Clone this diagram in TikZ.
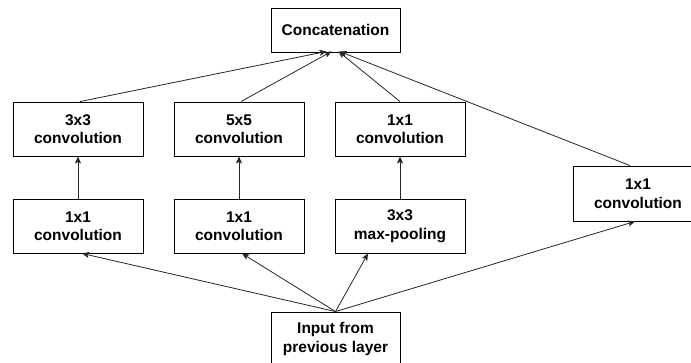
\documentclass[tikz,border=0pt]{standalone}
\usepackage{fontspec}
\setmainfont{Liberation Sans}
\usetikzlibrary{arrows.meta}
\begin{document}
\begin{tikzpicture}[x=1pt,y=-1pt,
  blk/.style={draw=black, line width=0.9pt, minimum width=130pt, minimum height=54pt,
    inner sep=0pt, align=center, font=\bfseries\fontsize{15.5}{18.5}\selectfont},
  conn/.style={draw=black!85, line width=0.8pt,
    -{Stealth[length=7pt,width=6pt,inset=1.5pt]}}]
\useasboundingbox (0,0) rectangle (691,363);
\clip (0,0) rectangle (691,363);
\node[blk, minimum width=129pt, minimum height=44pt] (cat) at (335.5,30) {Concatenation};
\node[blk] (c33) at (78,129) {3x3\\convolution};
\node[blk] (c55) at (239,129) {5x5\\convolution};
\node[blk] (c11b) at (400,129) {1x1\\convolution};
\node[blk] (r1) at (78,226) {1x1\\convolution};
\node[blk] (r2) at (239,226) {1x1\\convolution};
\node[blk] (mp) at (400,226) {3x3\\max-pooling};
\node[blk, minimum height=55pt] (c11r) at (638,193.5) {1x1\\convolution};
\node[blk, minimum width=129pt] (in) at (335.5,339) {Input from\\previous layer};
% vertical
\draw[conn] (r1.north) -- (c33.south);
\draw[conn] (r2.north) -- (c55.south);
\draw[conn] (mp.north) -- (c11b.south);
% to concatenation
\draw[conn] ([xshift=2pt]c33.north) -- ([xshift=-9pt,yshift=1pt]cat.south);
\draw[conn] ([xshift=2pt]c55.north) -- ([xshift=-4pt,yshift=1pt]cat.south);
\draw[conn] (c11b.north) -- ([xshift=3pt,yshift=1pt]cat.south);
\draw[conn] ([xshift=-8pt]c11r.north) -- ([xshift=4pt,yshift=1pt]cat.south);
% from input
\draw[conn] (in.north) -- ([xshift=4pt]r1.south);
\draw[conn] (in.north) -- ([xshift=3pt]r2.south);
\draw[conn] (in.north) -- ([xshift=-32pt]mp.south);
\draw[conn] (in.north) -- ([xshift=-3pt]c11r.south);
\end{tikzpicture}
\end{document}
